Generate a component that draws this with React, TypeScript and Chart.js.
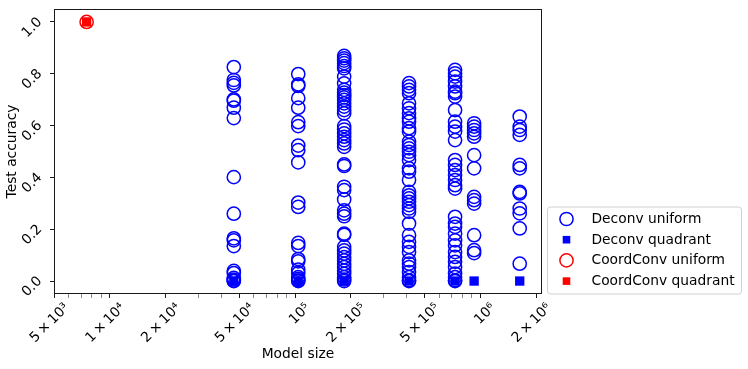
import React, { useEffect, useRef } from 'react';
import { Chart, registerables } from 'chart.js';

Chart.register(...registerables);

// ---- tick definitions ----
const xMajorTicks = [5e3, 1e4, 2e4, 5e4, 1e5, 2e5, 5e5, 1e6, 2e6];
const xMajorLabels = ['5\u2009×\u200910³', '1\u2009×\u200910⁴', '2\u2009×\u200910⁴', '5\u2009×\u200910⁴', '10⁵', '2\u2009×\u200910⁵', '5\u2009×\u200910⁵', '10⁶', '2\u2009×\u200910⁶'];
const xMinorTicks = [6e3, 7e3, 8e3, 9e3, 3e4, 4e4, 6e4, 7e4, 8e4, 9e4, 3e5, 4e5, 6e5, 7e5, 8e5, 9e5];
const yTicks = [0, 0.2, 0.4, 0.6, 0.8, 1.0];

// ---- data ----
const deconvModelSizes = [4.67e4, 1.04e5, 1.84e5, 4.12e5, 7.3e5, 9.25e5, 1.63e6];

const deconvUniformAt47k = [0.826, 0.776, 0.765, 0.755, 0.701, 0.696, 0.669, 0.629, 0.401, 0.26, 0.165, 0.157, 0.135, 0.039, 0.031, 0.012, 0.006, 0.002, 0.0];
const deconvUniformAt104k = [0.799, 0.759, 0.753, 0.706, 0.669, 0.613, 0.598, 0.523, 0.505, 0.458, 0.303, 0.286, 0.147, 0.135, 0.085, 0.076, 0.044, 0.031, 0.015, 0.008, 0.003, 0.0];
const deconvUniformAt184k = [0.869, 0.86, 0.851, 0.841, 0.83, 0.821, 0.789, 0.763, 0.738, 0.727, 0.718, 0.709, 0.699, 0.686, 0.673, 0.66, 0.647, 0.598, 0.585, 0.57, 0.557, 0.544, 0.531, 0.518, 0.45, 0.444, 0.364, 0.351, 0.315, 0.273, 0.26, 0.25, 0.183, 0.178, 0.132, 0.118, 0.106, 0.092, 0.08, 0.066, 0.054, 0.04, 0.028, 0.015, 0.006, 0.0];
const deconvUniformAt412k = [0.764, 0.751, 0.738, 0.725, 0.686, 0.667, 0.648, 0.628, 0.615, 0.59, 0.577, 0.538, 0.525, 0.512, 0.499, 0.486, 0.467, 0.435, 0.422, 0.39, 0.344, 0.331, 0.319, 0.306, 0.293, 0.28, 0.267, 0.222, 0.177, 0.151, 0.132, 0.112, 0.08, 0.067, 0.054, 0.035, 0.015, 0.003, 0.0];
const deconvUniformAt730k = [0.815, 0.802, 0.789, 0.77, 0.751, 0.731, 0.725, 0.712, 0.66, 0.615, 0.596, 0.577, 0.544, 0.467, 0.448, 0.428, 0.409, 0.39, 0.37, 0.357, 0.248, 0.222, 0.209, 0.183, 0.157, 0.138, 0.112, 0.093, 0.074, 0.054, 0.029, 0.015, 0.003, 0.0];
const deconvUniformAt925k = [0.609, 0.596, 0.583, 0.57, 0.557, 0.486, 0.435, 0.325, 0.312, 0.299, 0.177, 0.119, 0.108];
const deconvUniformAt1630k = [0.635, 0.596, 0.583, 0.564, 0.448, 0.435, 0.344, 0.338, 0.28, 0.261, 0.203, 0.067];

const deconvUniformColumns = [
  deconvUniformAt47k,
  deconvUniformAt104k,
  deconvUniformAt184k,
  deconvUniformAt412k,
  deconvUniformAt730k,
  deconvUniformAt925k,
  deconvUniformAt1630k,
];
const deconvQuadrantAcc = [0, 0, 0, 0, 0, 0, 0];

const coordConvModelSizes = [7.5e3];
const coordConvUniformAcc = [1.0];
const coordConvQuadrantAcc = [1.0];

const seriesLabels = ['Deconv uniform', 'Deconv quadrant', 'CoordConv uniform', 'CoordConv quadrant'];

const FONT = 'DejaVu Sans';
const FS = 13.8;

const framePlugin = {
  id: 'frame',
  afterDatasetsDraw(chart: any) {
    const { ctx, chartArea: a } = chart;
    ctx.save();
    ctx.strokeStyle = '#1a1a1a';
    ctx.lineWidth = 1;
    const l = Math.round(a.left) + 0.5;
    const t = Math.round(a.top) + 0.5;
    const r = Math.round(a.right) - 0.5;
    const b = Math.round(a.bottom) - 0.5;
    ctx.strokeRect(l, t, r - l, b - t);
    ctx.restore();
  },
};

const legendPlugin = {
  id: 'boxLegend',
  afterDraw(chart: any) {
    const { ctx, chartArea: a } = chart;
    const left = a.right + 5.5;
    const w = 194;
    const h = 87;
    const bottom = a.bottom;
    const top = bottom - h;
    ctx.save();
    const rad = 3;
    ctx.beginPath();
    ctx.moveTo(left + rad, top);
    ctx.lineTo(left + w - rad, top);
    ctx.quadraticCurveTo(left + w, top, left + w, top + rad);
    ctx.lineTo(left + w, bottom - rad);
    ctx.quadraticCurveTo(left + w, bottom, left + w - rad, bottom);
    ctx.lineTo(left + rad, bottom);
    ctx.quadraticCurveTo(left, bottom, left, bottom - rad);
    ctx.lineTo(left, top + rad);
    ctx.quadraticCurveTo(left, top, left + rad, top);
    ctx.closePath();
    ctx.fillStyle = 'rgba(255,255,255,0.8)';
    ctx.fill();
    ctx.strokeStyle = '#d0d0d0';
    ctx.lineWidth = 1;
    ctx.stroke();

    chart.data.datasets.forEach((ds: any, i: number) => {
      const cy = top + 12 + i * 20.7;
      const cx = left + 19;
      if (ds.pointStyle === 'circle') {
        ctx.beginPath();
        ctx.arc(cx, cy, 6.6, 0, Math.PI * 2);
        ctx.strokeStyle = ds.pointBorderColor;
        ctx.lineWidth = 1.5;
        ctx.stroke();
      } else {
        ctx.fillStyle = ds.pointBackgroundColor;
        ctx.fillRect(cx - 3.8, cy - 3.8, 7.6, 7.6);
      }
      ctx.fillStyle = '#000';
      ctx.font = `${FS}px "${FONT}"`;
      ctx.textBaseline = 'middle';
      ctx.textAlign = 'left';
      ctx.fillText(ds.label, left + 44, cy + 0.5);
    });
    ctx.restore();
  },
};

export default function App() {
  const canvasRef = useRef<HTMLCanvasElement | null>(null);

  useEffect(() => {
    const canvas = canvasRef.current;
    if (!canvas) return;

    const deconvUniformPoints = deconvUniformColumns.flatMap((accs, i) =>
      accs.map((y) => ({ x: deconvModelSizes[i], y }))
    );
    const deconvQuadrantPoints = deconvQuadrantAcc.map((y, i) => ({ x: deconvModelSizes[i], y }));
    const coordUniformPoints = coordConvUniformAcc.map((y, i) => ({ x: coordConvModelSizes[i], y }));
    const coordQuadrantPoints = coordConvQuadrantAcc.map((y, i) => ({ x: coordConvModelSizes[i], y }));

    const allXTicks = [...xMajorTicks, ...xMinorTicks].sort((p, q) => p - q);

    const chart = new Chart(canvas, {
      type: 'scatter',
      data: {
        datasets: [
          {
            label: seriesLabels[0],
            data: deconvUniformPoints,
            pointStyle: 'circle',
            pointRadius: 6.6,
            pointBorderWidth: 1.5,
            pointBorderColor: '#0000ff',
            pointBackgroundColor: 'rgba(0,0,0,0)',
            order: 3,
          },
          {
            label: seriesLabels[1],
            data: deconvQuadrantPoints,
            pointStyle: 'rect',
            pointRadius: 6.6,
            pointBorderWidth: 0,
            pointBorderColor: '#0000ff',
            pointBackgroundColor: '#0000ff',
            order: 2,
          },
          {
            label: seriesLabels[2],
            data: coordUniformPoints,
            pointStyle: 'circle',
            pointRadius: 6.6,
            pointBorderWidth: 1.5,
            pointBorderColor: '#ff0000',
            pointBackgroundColor: 'rgba(0,0,0,0)',
            order: 1,
          },
          {
            label: seriesLabels[3],
            data: coordQuadrantPoints,
            pointStyle: 'rect',
            pointRadius: 6.6,
            pointBorderWidth: 0,
            pointBorderColor: '#ff0000',
            pointBackgroundColor: '#ff0000',
            order: 0,
          },
        ] as any,
      },
      options: {
        animation: false,
        responsive: false,
        events: [],
        layout: { padding: { top: 9, right: 206, left: 0, bottom: 0 } },
        plugins: {
          legend: { display: false },
          tooltip: { enabled: false },
        },
        scales: {
          x: {
            type: 'logarithmic',
            min: 5e3,
            max: 2.15e6,
            afterBuildTicks: (scale: any) => {
              scale.ticks = allXTicks.map((v) => ({ value: v }));
            },
            afterFit: (scale: any) => {
              scale.height = 75;
              scale.paddingLeft = 0;
              scale.paddingRight = 0;
            },
            border: { display: false },
            grid: {
              display: true,
              drawOnChartArea: false,
              drawTicks: true,
              tickLength: 4,
              tickColor: (ctx: any) =>
                ctx.tick && xMajorTicks.includes(ctx.tick.value) ? '#1a1a1a' : '#555555',
              tickWidth: (ctx: any) =>
                ctx.tick && xMajorTicks.includes(ctx.tick.value) ? 1 : 0.7,
            },
            ticks: {
              autoSkip: false,
              minRotation: 45,
              maxRotation: 45,
              padding: 2,
              labelOffset: 13,
              color: '#000',
              font: { family: FONT, size: FS },
              callback: (value: any) => {
                const i = xMajorTicks.indexOf(Number(value));
                return i >= 0 ? xMajorLabels[i] : '';
              },
            },
            title: {
              display: true,
              text: 'Model size',
              color: '#000',
              font: { family: FONT, size: FS },
              padding: { top: 0, bottom: 6 },
            },
          },
          y: {
            type: 'linear',
            min: -0.05,
            max: 1.05,
            afterBuildTicks: (scale: any) => {
              scale.ticks = yTicks.map((v) => ({ value: v }));
            },
            afterFit: (scale: any) => {
              scale.width = 54;
              scale.paddingTop = 0;
              scale.paddingBottom = 0;
            },
            border: { display: false },
            grid: {
              display: true,
              drawOnChartArea: false,
              drawTicks: true,
              tickLength: 4,
              tickColor: '#1a1a1a',
            },
            ticks: {
              minRotation: 45,
              maxRotation: 45,
              padding: 10,
              labelOffset: -2,
              color: '#000',
              font: { family: FONT, size: FS },
              callback: (value: any) => Number(value).toFixed(1),
            },
            title: {
              display: true,
              text: 'Test accuracy',
              color: '#000',
              font: { family: FONT, size: FS },
              padding: { top: 4, bottom: 0 },
            },
          },
        },
      } as any,
      plugins: [framePlugin, legendPlugin],
    });

    return () => {
      chart.destroy();
    };
  }, []);

  return (
    <div style={{ position: 'absolute', left: 0, top: 0, width: 748, height: 369, background: '#fff' }}>
      <canvas ref={canvasRef} width={748} height={369} style={{ width: 748, height: 369, display: 'block' }} />
    </div>
  );
}
